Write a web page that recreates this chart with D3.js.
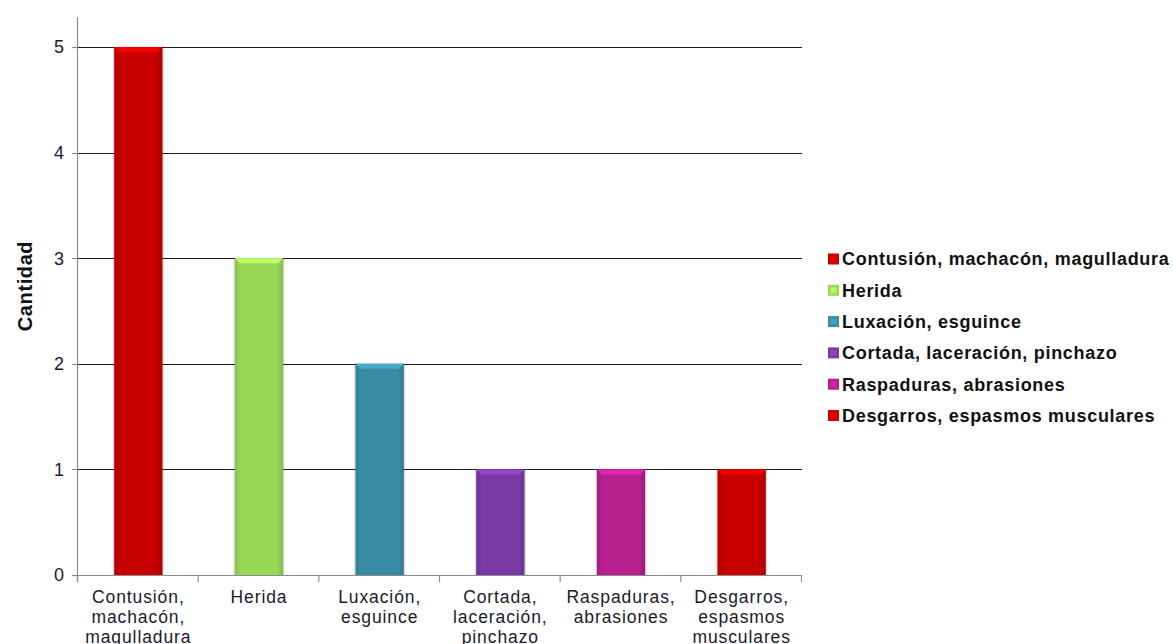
<!DOCTYPE html>
<html>
<head>
<meta charset="utf-8">
<script src="https://cdn.jsdelivr.net/npm/d3@7"></script>
<style>
  html, body { margin: 0; padding: 0; background: #fff; }
  svg { display: block; font-family: Arial, "Liberation Sans", sans-serif; }
</style>
</head>
<body>
<svg id="chart" width="1173" height="644"></svg>
<script>
// ---- data ----
const categories = [
  "Contusión, machacón, magulladura",
  "Herida",
  "Luxación, esguince",
  "Cortada, laceración, pinchazo",
  "Raspaduras, abrasiones",
  "Desgarros, espasmos musculares"
];
const axisLabelLines = [
  ["Contusión,", "machacón,", "magulladura"],
  ["Herida"],
  ["Luxación,", "esguince"],
  ["Cortada,", "laceración,", "pinchazo"],
  ["Raspaduras,", "abrasiones"],
  ["Desgarros,", "espasmos", "musculares"]
];
const values = [5, 3, 2, 1, 1, 1];
const colors = ["#c80000", "#9bd756", "#3a8ca4", "#7a3aa4", "#b6208f", "#c80000"];
const yTicks = [0, 1, 2, 3, 4, 5];
const yTitle = "Cantidad";

// ---- layout ----
const svg = d3.select("#chart");
const plot = { left: 78, right: 802, top: 17, bottom: 575 };

const x = d3.scaleBand().domain(d3.range(categories.length))
  .range([plot.left, plot.right]).paddingInner(0).paddingOuter(0);
const y = d3.scaleLinear().domain([0, 5]).range([plot.bottom, 47]);

const defs = svg.append("defs");
colors.forEach((c, i) => {
  const g = defs.append("linearGradient").attr("id", "bg" + i)
    .attr("x1", "0").attr("x2", "1").attr("y1", "0").attr("y2", "0");
  const base = d3.color(c);
  g.append("stop").attr("offset", "0").attr("stop-color", base.darker(0.35));
  g.append("stop").attr("offset", "0.12").attr("stop-color", base);
  g.append("stop").attr("offset", "0.88").attr("stop-color", base);
  g.append("stop").attr("offset", "1").attr("stop-color", base.darker(0.45));
});

// gridlines (skip 0)
svg.append("g").selectAll("line").data(yTicks.filter(d => d > 0)).join("line")
  .attr("x1", plot.left).attr("x2", plot.right)
  .attr("y1", d => Math.round(y(d)) + 0.5).attr("y2", d => Math.round(y(d)) + 0.5)
  .attr("stroke", "#1e1e1e").attr("stroke-width", 1.2);

// bars
const bw = x.bandwidth() * 0.4;
const bars = svg.append("g").selectAll("g").data(values).join("g");
// shadow
bars.append("rect")
  .attr("x", (d, i) => x(i) + (x.bandwidth() - bw) / 2 - 1.5)
  .attr("y", d => y(d) - 0.5)
  .attr("width", bw + 3)
  .attr("height", d => y(0) - y(d) + 0.5)
  .attr("fill", "#000").attr("opacity", 0.12);
bars.append("rect")
  .attr("x", (d, i) => x(i) + (x.bandwidth() - bw) / 2)
  .attr("y", d => y(d))
  .attr("width", bw)
  .attr("height", d => y(0) - y(d))
  .attr("fill", (d, i) => `url(#bg${i})`);
// top bevel
bars.append("path")
  .attr("d", (d, i) => {
    const x0 = x(i) + (x.bandwidth() - bw) / 2, x1 = x0 + bw, t = y(d);
    return `M${x0},${t} L${x1},${t} L${x1 - 5},${t + 5} L${x0 + 5},${t + 5} Z`;
  })
  .attr("fill", (d, i) => d3.color(colors[i]).brighter(0.55));

// y axis
svg.append("line").attr("x1", plot.left - 0.5).attr("x2", plot.left - 0.5)
  .attr("y1", plot.top).attr("y2", plot.bottom + 7).attr("stroke", "#8c8c8c").attr("stroke-width", 1.2);
svg.append("g").selectAll("line").data(yTicks).join("line")
  .attr("x1", plot.left - 6).attr("x2", plot.left)
  .attr("y1", d => Math.round(y(d)) + 0.5).attr("y2", d => Math.round(y(d)) + 0.5)
  .attr("stroke", "#8c8c8c").attr("stroke-width", 1.2);
svg.append("g").selectAll("text").data(yTicks).join("text")
  .attr("x", 64).attr("y", d => y(d))
  .attr("dy", "0.36em")
  .attr("text-anchor", "end")
  .attr("font-size", 18).attr("fill", "#1a1a2e")
  .text(d => d);

// x axis
svg.append("line").attr("x1", plot.left - 6).attr("x2", plot.right)
  .attr("y1", plot.bottom + 0.5).attr("y2", plot.bottom + 0.5)
  .attr("stroke", "#8c8c8c").attr("stroke-width", 1.2);
svg.append("g").selectAll("line").data(d3.range(categories.length + 1)).join("line")
  .attr("x1", d => (d < categories.length ? x(d) : plot.right) - 0.5)
  .attr("x2", d => (d < categories.length ? x(d) : plot.right) - 0.5)
  .attr("y1", plot.bottom).attr("y2", plot.bottom + 7)
  .attr("stroke", "#8c8c8c").attr("stroke-width", 1.2);

const xl = svg.append("g").selectAll("text").data(axisLabelLines).join("text")
  .attr("text-anchor", "middle")
  .attr("font-size", 17.5).attr("fill", "#1a1a2e")
  .attr("letter-spacing", "0.9px");
xl.selectAll("tspan").data((d, i) => d.map(s => ({ s, i }))).join("tspan")
  .attr("x", d => x(d.i) + x.bandwidth() / 2)
  .attr("y", (d, j) => 603 + j * 20)
  .text(d => d.s);

// y title
svg.append("text")
  .attr("transform", "translate(32,286) rotate(-90)")
  .attr("text-anchor", "middle")
  .attr("font-size", 20).attr("font-weight", "bold").attr("fill", "#111")
  .attr("letter-spacing", "0.6px")
  .text(yTitle);

// legend
const leg = svg.append("g").selectAll("g").data(categories).join("g")
  .attr("transform", (d, i) => `translate(828,${259 + i * 31.3})`);
leg.append("rect").attr("x", 0).attr("y", -5.5).attr("width", 11).attr("height", 11)
  .attr("fill", (d, i) => colors[i]);
leg.append("rect").attr("x", 2.5).attr("y", -3).attr("width", 6).attr("height", 6)
  .attr("fill", (d, i) => d3.color(colors[i]).brighter(0.4));
leg.append("text").attr("x", 14).attr("y", 0).attr("dy", "0.36em")
  .attr("font-size", 18).attr("font-weight", "bold").attr("fill", "#111")
  .attr("letter-spacing", "0.7px")
  .text(d => d);
</script>
</body>
</html>
